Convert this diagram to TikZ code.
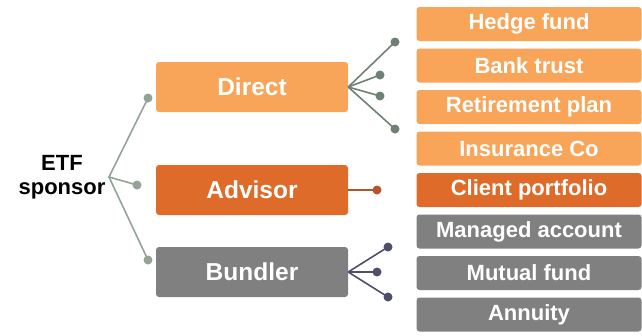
\documentclass[tikz,border=0pt]{standalone}
\usepackage{fontspec}
\setmainfont{Liberation Sans}
\definecolor{lightorange}{HTML}{F8A55A}
\definecolor{darkorange}{HTML}{DE6B2A}
\definecolor{boxgray}{HTML}{808080}
\definecolor{rootline}{HTML}{93A397}
\definecolor{directline}{HTML}{6F8174}
\definecolor{advisorline}{HTML}{B5532A}
\definecolor{bundlerline}{HTML}{4F4F6B}
\begin{document}
\begin{tikzpicture}[x=1pt,y=-1pt,
  channel/.style={rounded corners=3pt, minimum width=192pt, minimum height=50pt,
    text=white, font=\fontsize{24.5}{26}\selectfont\bfseries, inner sep=0pt},
  client/.style={rounded corners=3pt, minimum width=225pt, minimum height=34pt,
    text=white, font=\fontsize{22}{24}\selectfont\bfseries, inner sep=0pt},
  branch/.style={line width=1.6pt},
  dot/.style={circle, inner sep=0pt, minimum size=9pt}]
\useasboundingbox (0,0) rectangle (642,335);

% root label
\node[align=center, font=\fontsize{22}{24}\selectfont\bfseries] (sponsor) at (62,177) {ETF\\sponsor};
\coordinate (root) at (109,177);

% distribution channels
\node[channel, fill=lightorange] (direct) at (252,87) {Direct};
\node[channel, fill=darkorange] (advisor) at (252,190) {Advisor};
\node[channel, fill=boxgray] (bundler) at (252,272) {Bundler};

% end clients
\node[client, fill=lightorange] (hedge) at (529,24) {Hedge fund};
\node[client, fill=lightorange] (bank) at (529,65.5) {Bank trust};
\node[client, fill=lightorange] (retire) at (529,107) {Retirement plan};
\node[client, fill=lightorange] (insure) at (529,148.5) {Insurance Co};
\node[client, fill=darkorange] (portfolio) at (529,190) {Client portfolio};
\node[client, fill=boxgray] (managed) at (529,231.5) {Managed account};
\node[client, fill=boxgray] (mutual) at (529,273) {Mutual fund};
\node[client, fill=boxgray] (annuity) at (529,314.5) {Annuity};

% sponsor fan
\node[dot, fill=rootline] (r1) at (148,98) {};
\node[dot, fill=rootline] (r2) at (137,185) {};
\node[dot, fill=rootline] (r3) at (148,260) {};
\draw[branch, rootline] (r1.center) -- (root) -- (r2.center);
\draw[branch, rootline] (root) -- (r3.center);

% direct fan
\coordinate (dfan) at (direct.east);
\node[dot, fill=directline] (d1) at (395,42) {};
\node[dot, fill=directline] (d2) at (380,75) {};
\node[dot, fill=directline] (d3) at (380,96) {};
\node[dot, fill=directline] (d4) at (395,129) {};
\foreach \d in {d1,d2,d3,d4} \draw[branch, directline] (dfan) -- (\d.center);

% advisor link
\node[dot, fill=advisorline] (a1) at (377,190) {};
\draw[branch, advisorline, line width=1.2pt] (advisor.east) -- (a1.center);

% bundler fan
\coordinate (bfan) at (bundler.east);
\node[dot, fill=bundlerline] (b1) at (388,247) {};
\node[dot, fill=bundlerline] (b2) at (377,272) {};
\node[dot, fill=bundlerline] (b3) at (388,297) {};
\foreach \b in {b1,b2,b3} \draw[branch, bundlerline] (bfan) -- (\b.center);
\end{tikzpicture}
\end{document}
